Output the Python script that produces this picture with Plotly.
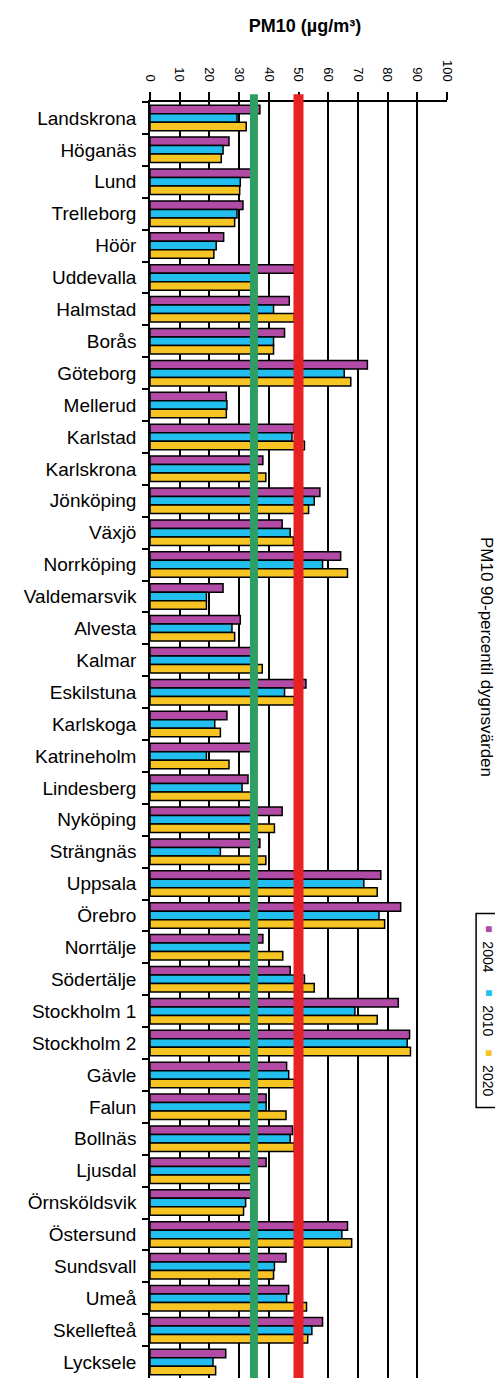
import plotly.graph_objects as go

categories = ["Landskrona", "Höganäs", "Lund", "Trelleborg", "Höör", "Uddevalla", "Halmstad",
              "Borås", "Göteborg", "Mellerud", "Karlstad", "Karlskrona", "Jönköping", "Växjö",
              "Norrköping", "Valdemarsvik", "Alvesta", "Kalmar", "Eskilstuna", "Karlskoga",
              "Katrineholm", "Lindesberg", "Nyköping", "Strängnäs", "Uppsala", "Örebro",
              "Norrtälje", "Södertälje", "Stockholm 1", "Stockholm 2", "Gävle", "Falun",
              "Bollnäs", "Ljusdal", "Örnsköldsvik", "Östersund", "Sundsvall", "Umeå",
              "Skellefteå", "Lycksele"]

v2004 = [37, 26.6, 34.5, 31.3, 24.8, 48.6, 46.9, 45.3, 73.2, 25.7, 48.6, 38, 57.2, 44.5,
         64.2, 24.6, 30.4, 34.5, 52.5, 25.9, 34.5, 33, 44.5, 37, 77.7, 84.4, 38, 47.2,
         83.6, 87.4, 46, 39.1, 48, 39.1, 34.5, 66.5, 45.8, 46.7, 58.1, 25.5]
v2010 = [29.3, 24.6, 30.4, 29.3, 22.3, 34.5, 41.6, 41.6, 65.4, 25.9, 47.8, 34.5, 55.3, 47.2,
         58.1, 19, 27.6, 35, 45.3, 21.8, 19, 31, 34.5, 23.7, 72, 77.1, 34, 52,
         69, 86.6, 46.7, 39.1, 47.2, 34.5, 32.2, 64.6, 41.9, 46, 54.5, 21.2]
v2020 = [32.4, 24, 30.2, 28.5, 21.5, 34.5, 48.6, 41.6, 67.6, 25.7, 52, 39, 53.4, 48.3,
         66.5, 19, 28.5, 37.8, 48.6, 23.7, 26.6, 34.5, 41.9, 39, 76.5, 79, 44.7, 55.3,
         76.5, 87.7, 48.6, 45.8, 48.6, 34.5, 31.5, 67.9, 41.6, 52.7, 53.1, 22.1]

series_names = ["2004", "2010", "2020"]
series_values = [v2004, v2010, v2020]
series_colors = ["#B24BA6", "#22BFEE", "#F6C524"]

x_ticks = [0, 10, 20, 30, 40, 50, 60, 70, 80, 90, 100]
green_limit = 35
red_limit = 50

title_top = "PM10 (µg/m³)"
title_right = "PM10 90-percentil dygnsvärden"

FONT = "Liberation Sans, Arial, sans-serif"

fig = go.Figure()
for name, vals, col in zip(series_names, series_values, series_colors):
    fig.add_trace(go.Bar(
        y=categories, x=vals, name=name, orientation="h",
        marker=dict(color=col, line=dict(color="black", width=1.5)),
        showlegend=False,
    ))

# limit lines
fig.add_shape(type="line", xref="x", yref="paper", x0=green_limit, x1=green_limit,
              y0=0, y1=1.006, line=dict(color="#2E9E62", width=8), layer="above")
fig.add_shape(type="line", xref="x", yref="paper", x0=red_limit, x1=red_limit,
              y0=0, y1=1.006, line=dict(color="#E62225", width=10), layer="above")

# right-side title
fig.add_annotation(text=title_right, xref="paper", yref="paper", x=1.135, y=0.565,
                   xanchor="center", yanchor="middle",
                   showarrow=False, textangle=90,
                   font=dict(family=FONT, size=17, color="black"))

# manual legend (rotated)
fig.add_shape(type="rect", xref="paper", yref="paper", x0=1.098, x1=1.183,
              y0=0.212, y1=0.364, line=dict(color="black", width=1.5),
              fillcolor="white")
leg_y = [0.352, 0.302, 0.255]
for name, col, yy in zip(series_names, series_colors, leg_y):
    fig.add_annotation(text="■", xref="paper", yref="paper", x=1.14, y=yy,
                       xanchor="center", yanchor="middle",
                       showarrow=False, font=dict(family=FONT, size=12, color=col))
    fig.add_annotation(text=name, xref="paper", yref="paper", x=1.14, y=yy - 0.022,
                       xanchor="center", yanchor="middle",
                       showarrow=False, textangle=90,
                       font=dict(family=FONT, size=14, color="black"))

# page body has an 8px margin: compensate so the plot lands where the reference has it
fig.update_layout(
    width=495, height=1376,
    margin=dict(l=142, r=56, t=94, b=6, autoexpand=False),
    paper_bgcolor="white", plot_bgcolor="white",
    barmode="group", bargap=0.2, bargroupgap=0.0,
    title=dict(text="<b>" + title_top + "</b>", x=0.6, xanchor="center",
               y=0.992, yanchor="top",
               font=dict(family=FONT, size=18, color="black")),
    font=dict(family=FONT, color="black"),
)
fig.update_xaxes(
    side="top", range=[0, 100], tickvals=x_ticks, ticktext=[str(t) for t in x_ticks],
    tickangle=90, ticks="outside", ticklen=8, tickwidth=1.5, tickcolor="black",
    showgrid=True, gridcolor="black", gridwidth=1.5, automargin=False,
    showline=True, linecolor="black", linewidth=1.5, ticklabelstandoff=6,
    tickfont=dict(family=FONT, size=13, color="black"), zeroline=False,
)
fig.update_yaxes(
    autorange="reversed", type="category", tickson="boundaries",
    ticks="outside", ticklen=6, tickwidth=1.5, tickcolor="black", automargin=False,
    showline=True, linecolor="black", linewidth=1.5, showgrid=False,
    ticklabelstandoff=8,
    tickfont=dict(family=FONT, size=19, color="black"),
)

fig.write_html("out.html")
